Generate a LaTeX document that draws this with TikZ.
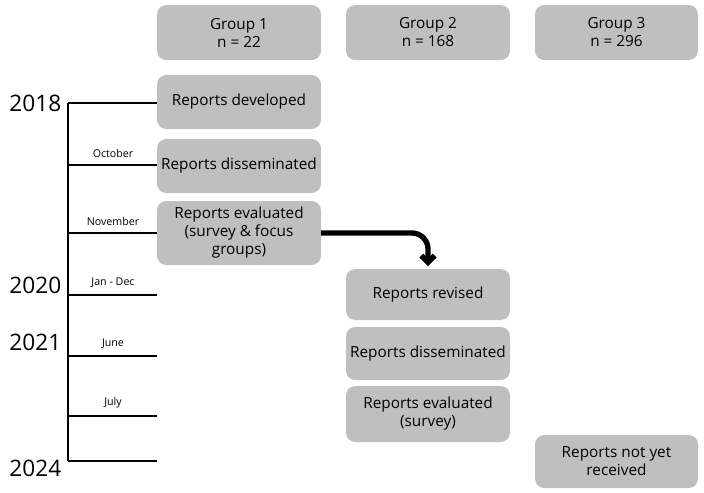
\documentclass[tikz,border=0pt]{standalone}
\usepackage{fontspec}
\setmainfont{Open Sans}
\usetikzlibrary{arrows.meta}
\begin{document}
\begin{tikzpicture}[x=0.75pt,y=-0.75pt,
 box/.style={fill=black!25,draw=none,rounded corners=7pt,align=center,font=\fontsize{11.5}{13.5}\selectfont,inner sep=0},
 yr/.style={font=\fontsize{17}{19}\selectfont,anchor=east},
 mo/.style={font=\fontsize{8}{9}\selectfont,anchor=south},
 tl/.style={line width=1.6pt}]
\useasboundingbox (0,0) rectangle (704,493);
\def\bx#1#2#3#4#5#6{\path[box] (#2,#3) rectangle (#4,#5); \node[box,fill=none] (#1) at ({(#2+#4)/2},{(#3+#5)/2}) {#6};}
\bx{g1}{157}{5}{321}{60}{Group 1\\n = 22}
\bx{g2}{346}{5}{510}{60}{Group 2\\n = 168}
\bx{g3}{535}{5}{698}{60}{Group 3\\n = 296}
\bx{a1}{157}{75}{321}{129}{Reports developed}
\bx{a2}{157}{139}{321}{193}{Reports disseminated}
\bx{a3}{157}{201}{321}{265}{Reports evaluated\\(survey \& focus\\groups)}
\bx{b1}{346}{269}{510}{320}{Reports revised}
\bx{b2}{346}{327}{510}{380}{Reports disseminated}
\bx{b3}{346}{386}{510}{442}{Reports evaluated\\(survey)}
\bx{c1}{535}{435}{698}{488}{Reports not yet\\received}
\coordinate (t0) at (68,103); \coordinate (tE) at (68,461);
\draw[tl] (t0) -- (tE);
\foreach \y/\n in {103/l1,165/l2,233/l3,295/l4,356/l5,416/l6,461/l7}{\draw[tl] (68,\y) -- (157,\y); \coordinate (\n) at (113,\y);}
\node[yr] (y1) at (66,103) {2018};
\node[yr] (y2) at (66,285) {2020};
\node[yr] (y3) at (66,342) {2021};
\node[yr] (y4) at (66,468) {2024};
\node[mo] (m1) at (113,162) {October};
\node[mo] (m2) at (113,230) {November};
\node[mo] (m3) at (113,292) {Jan - Dec};
\node[mo] (m4) at (113,353) {June};
\node[mo] (m5) at (113,413) {July};
\coordinate (as) at (321,233);
\coordinate (ac) at (428,233);
\draw[line width=4pt,rounded corners=12pt,-{Straight Barb[length=5pt,width=10pt]}] (as) -- (ac) -- (428,266);
\end{tikzpicture}
\end{document}
